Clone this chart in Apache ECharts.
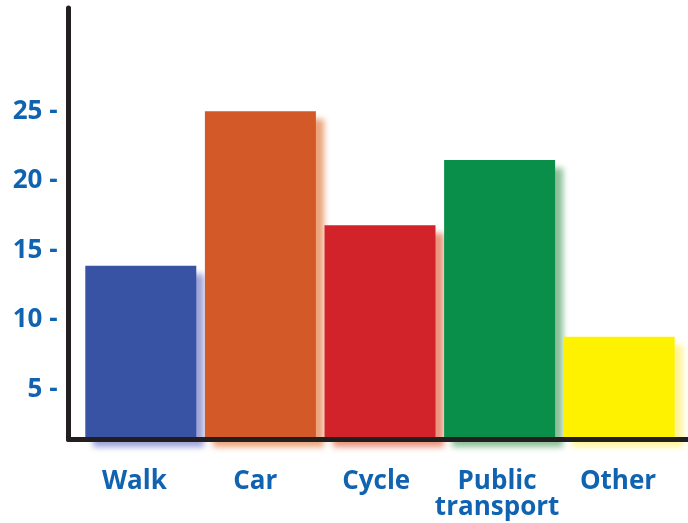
<!DOCTYPE html>
<html><head><meta charset="utf-8">
<script src="https://cdn.jsdelivr.net/npm/echarts@6/dist/echarts.min.js"></script>
<style>html,body{margin:0;padding:0;background:#fff}#c{width:688px;height:523px}</style>
</head><body><div id="c"></div>
<script>
const categories = ['Walk', 'Car', 'Cycle', 'Public\ntransport', 'Other'];
const values = [13.9, 25, 16.8, 21.5, 8.8];
const yTickValues = [5, 10, 15, 20, 25];
const barColors = ['#3953a4', '#d35a28', '#d2232a', '#0a8f4b', '#fff200'];
const shadowColors = ['#9ea3d8', '#eba47c', '#e8957c', '#8cbf98', '#fff49a'];

const yMin = 1.444, yMax = 32.41;
const labelColor = '#1063b0';
const axisColor = '#231f20';
const font = '"Open Sans"';

const chart = echarts.init(document.getElementById('c'), null, {renderer: 'canvas'});
chart.setOption({
  backgroundColor: '#ffffff',
  animation: false,
  grid: [
    {left: 81, right: 9, top: 8, bottom: 83.8},
    {left: 68.5, right: 0, top: 8, bottom: 83.8},
    {left: 73.95, right: 9.55, top: 8, bottom: 83.8}
  ],
  xAxis: [
    {gridIndex: 0, type: 'category', data: categories, axisLine: {show: false}, axisTick: {show: false}, axisLabel: {show: false}},
    {gridIndex: 1, type: 'value', min: 0, max: 1, z: 10,
      axisLine: {show: true, onZero: false, lineStyle: {color: axisColor, width: 5}},
      axisTick: {show: false}, axisLabel: {show: false}, splitLine: {show: false}},
    {gridIndex: 2, type: 'category', data: categories,
      axisLine: {show: false}, axisTick: {show: false},
      axisLabel: {show: true, interval: 0, margin: 29, color: labelColor, fontFamily: font, fontWeight: 'bold', fontSize: 26, lineHeight: 26}}
  ],
  yAxis: [
    {gridIndex: 0, type: 'value', min: yMin, max: yMax, show: false, splitLine: {show: false}},
    {gridIndex: 1, type: 'value', min: yMin, max: yMax, z: 10,
      axisLine: {show: true, onZero: false, lineStyle: {color: axisColor, width: 5}},
      axisTick: {show: false}, splitLine: {show: false},
      axisLabel: {show: true, customValues: yTickValues, margin: 11, formatter: '{value} -',
        color: labelColor, fontFamily: font, fontWeight: 'bold', fontSize: 26}},
    {gridIndex: 2, type: 'value', min: yMin, max: yMax, show: false, splitLine: {show: false}}
  ],
  series: [{
    type: 'bar',
    xAxisIndex: 0, yAxisIndex: 0,
    barWidth: 111,
    clip: true,
    data: values.map((v, i) => ({
      value: v,
      itemStyle: {color: barColors[i], shadowColor: shadowColors[i], shadowBlur: 6, shadowOffsetX: 8, shadowOffsetY: 8}
    }))
  }]
});
</script></body></html>
